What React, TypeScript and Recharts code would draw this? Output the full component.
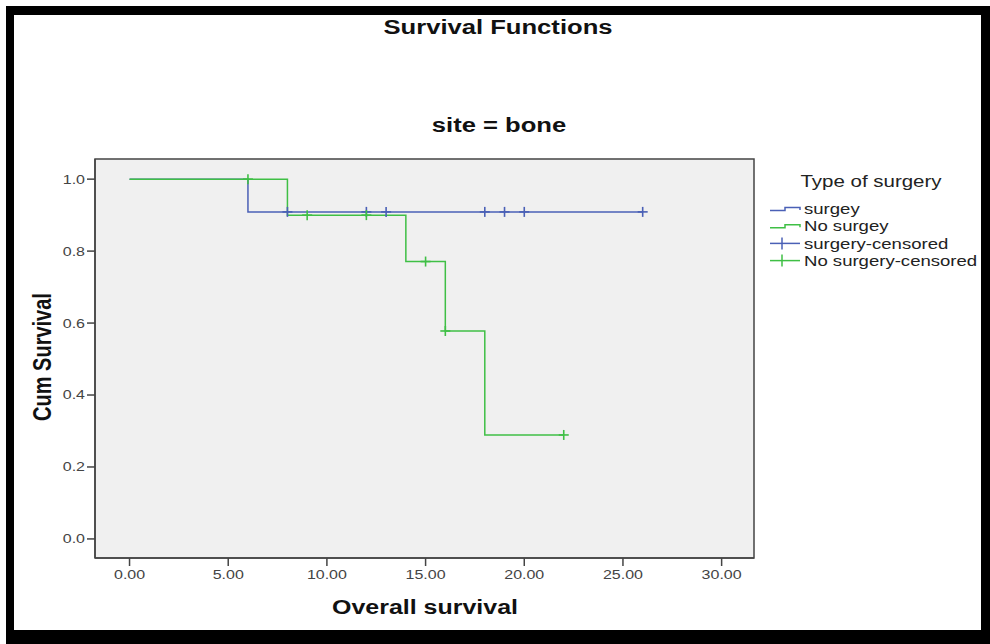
import React from 'react';
import {
  ComposedChart,
  Line,
  Scatter,
  XAxis,
  YAxis,
  CartesianGrid,
  ReferenceArea,
} from 'recharts';

// ---- data ----
const surgeryTimes = [0, 6, 26];
const surgerySurv = [1.0, 0.909, 0.909];
const noSurgeryTimes = [0, 8, 14, 16, 18, 22];
const noSurgerySurv = [1.0, 0.9, 0.771, 0.578, 0.289, 0.289];
const surgeryCensTimes = [8, 12, 13, 18, 19, 20, 26];
const surgeryCensSurv = [0.909, 0.909, 0.909, 0.909, 0.909, 0.909, 0.909];
const noSurgeryCensTimes = [6, 9, 12, 15, 16, 22];
const noSurgeryCensSurv = [1.0, 0.9, 0.9, 0.771, 0.578, 0.289];
const xTicks = [0, 5, 10, 15, 20, 25, 30];
const yTicks = [0, 0.2, 0.4, 0.6, 0.8, 1.0];
const legendTitle = 'Type of surgery';
const legendLabels = ['surgey', 'No surgey', 'surgery-censored', 'No surgery-censored'];

const XMIN = -1.75;
const XMAX = 31.64;
const YMIN = -0.053;
const YMAX = 1.056;

const BLUE = '#4a60b6';
const GREEN = '#3fbf45';
const SX = 1.28;
const FONT = '"Liberation Sans", Arial, sans-serif';

const toPts = (ts: number[], ss: number[]) => ts.map((t, i) => ({ t, s: ss[i] }));
const surgeryData = toPts(surgeryTimes, surgerySurv);
const noSurgeryData = toPts(noSurgeryTimes, noSurgerySurv);
const surgeryCens = toPts(surgeryCensTimes, surgeryCensSurv);
const noSurgeryCens = toPts(noSurgeryCensTimes, noSurgeryCensSurv);

const makePlus = (color: string) => (props: any) => {
  const { cx, cy } = props;
  if (cx == null || cy == null) return <g />;
  return (
    <g stroke={color} strokeWidth={1.6}>
      <line x1={cx - 5} x2={cx + 5} y1={cy} y2={cy} />
      <line x1={cx} x2={cx} y1={cy - 5} y2={cy + 5} />
    </g>
  );
};

const XTick = (props: any) => {
  const { x, y, payload } = props;
  return (
    <g transform={`translate(${x},${y})`}>
      <text transform={`scale(${SX},1)`} textAnchor="middle" dy="0.71em" fontSize={12.5} fill="#444" fontFamily={FONT}>
        {Number(payload.value).toFixed(2)}
      </text>
    </g>
  );
};

const YTick = (props: any) => {
  const { x, y, payload } = props;
  return (
    <g transform={`translate(${x},${y})`}>
      <text transform={`scale(${SX},1)`} textAnchor="end" dy="0.355em" fontSize={12.5} fill="#444" fontFamily={FONT}>
        {Number(payload.value).toFixed(1)}
      </text>
    </g>
  );
};

const LegendBox = () => {
  const rows = [
    { label: legendLabels[0], color: BLUE, kind: 'line' },
    { label: legendLabels[1], color: GREEN, kind: 'line' },
    { label: legendLabels[2], color: BLUE, kind: 'cens' },
    { label: legendLabels[3], color: GREEN, kind: 'cens' },
  ];
  return (
    <svg width={225} height={110} style={{ position: 'absolute', left: 765, top: 165, overflow: 'visible' }}>
      <g transform={`translate(106,16)`}>
        <text transform={`scale(${SX},1)`} textAnchor="middle" dy="0.355em" fontSize={16} fill="#222" fontFamily={FONT}>
          {legendTitle}
        </text>
      </g>
      {rows.map((r, i) => {
        const cy = 44 + i * 17.2;
        return (
          <g key={r.label}>
            {r.kind === 'line' ? (
              <path d={`M5,${cy + 1.5} H20 V${cy - 1.5} H35 V${cy + 1}`} fill="none" stroke={r.color} strokeWidth={1.5} />
            ) : (
              <g stroke={r.color} strokeWidth={1.5}>
                <line x1={5} x2={35} y1={cy} y2={cy} />
                <line x1={17} x2={17} y1={cy - 6} y2={cy + 6} />
              </g>
            )}
            <g transform={`translate(39,${cy})`}>
              <text transform={`scale(${SX},1)`} dy="0.355em" fontSize={14.5} fill="#222" fontFamily={FONT}>
                {r.label}
              </text>
            </g>
          </g>
        );
      })}
    </svg>
  );
};

const textStyle = (extra: React.CSSProperties): React.CSSProperties => ({
  position: 'absolute',
  fontFamily: FONT,
  fontWeight: 'bold',
  color: '#111',
  whiteSpace: 'nowrap',
  lineHeight: 1,
  ...extra,
});

export default function App() {
  return (
    <div style={{ position: 'absolute', left: 0, top: 0, width: 990, height: 644, background: '#fff', overflow: 'hidden' }}>
      <div style={{ position: 'absolute', left: 6, top: 6, width: 984, height: 638, background: '#000' }} />
      <div style={{ position: 'absolute', left: 14, top: 15, width: 967, height: 615, background: '#fff' }} />

      <div style={textStyle({ left: 498, top: 27, fontSize: 20, transform: `translate(-50%,-50%) scaleX(${SX})` })}>
        Survival Functions
      </div>
      <div style={textStyle({ left: 499, top: 125, fontSize: 20, transform: `translate(-50%,-50%) scaleX(${SX})` })}>
        site = bone
      </div>
      <div style={textStyle({ left: 425, top: 608, fontSize: 19.5, transform: `translate(-50%,-50%) scaleX(${SX})` })}>
        Overall survival
      </div>
      <div style={textStyle({ left: 42, top: 357, fontSize: 20, transform: `translate(-50%,-50%) scaleX(${SX}) rotate(-90deg)` })}>
        Cum Survival
      </div>

      <div style={{ position: 'absolute', left: 0, top: 0 }}>
        <ComposedChart width={990} height={644} margin={{ top: 159, right: 236, bottom: 46, left: 45 }}>
          <CartesianGrid horizontal={false} vertical={false} fill="#f0f0f0" fillOpacity={1} />
          <XAxis
            type="number"
            dataKey="t"
            domain={[XMIN, XMAX]}
            ticks={xTicks}
            allowDataOverflow
            height={40}
            tickSize={8}
            tickMargin={4}
            tick={<XTick />}
            stroke="#444"
            axisLine={{ stroke: '#444', strokeWidth: 1.5 }}
            tickLine={{ stroke: '#444', strokeWidth: 1.5 }}
          />
          <YAxis
            type="number"
            dataKey="s"
            domain={[YMIN, YMAX]}
            ticks={yTicks}
            allowDataOverflow
            width={50}
            tickSize={8}
            tickMargin={2}
            tick={<YTick />}
            stroke="#444"
            axisLine={{ stroke: '#444', strokeWidth: 1.5 }}
            tickLine={{ stroke: '#444', strokeWidth: 1.5 }}
          />
          <ReferenceArea x1={XMIN} x2={XMAX} y1={YMIN} y2={YMAX} fill="none" stroke="#444" strokeWidth={1.5} ifOverflow="visible" />
          <Line data={surgeryData} dataKey="s" type="stepAfter" stroke={BLUE} strokeWidth={1.5} dot={false} isAnimationActive={false} legendType="none" />
          <Line data={noSurgeryData} dataKey="s" type="stepAfter" stroke={GREEN} strokeWidth={1.5} dot={false} isAnimationActive={false} legendType="none" />
          <Scatter data={surgeryCens} dataKey="s" shape={makePlus(BLUE)} isAnimationActive={false} legendType="none" />
          <Scatter data={noSurgeryCens} dataKey="s" shape={makePlus(GREEN)} isAnimationActive={false} legendType="none" />
        </ComposedChart>
      </div>
      <LegendBox />
    </div>
  );
}
